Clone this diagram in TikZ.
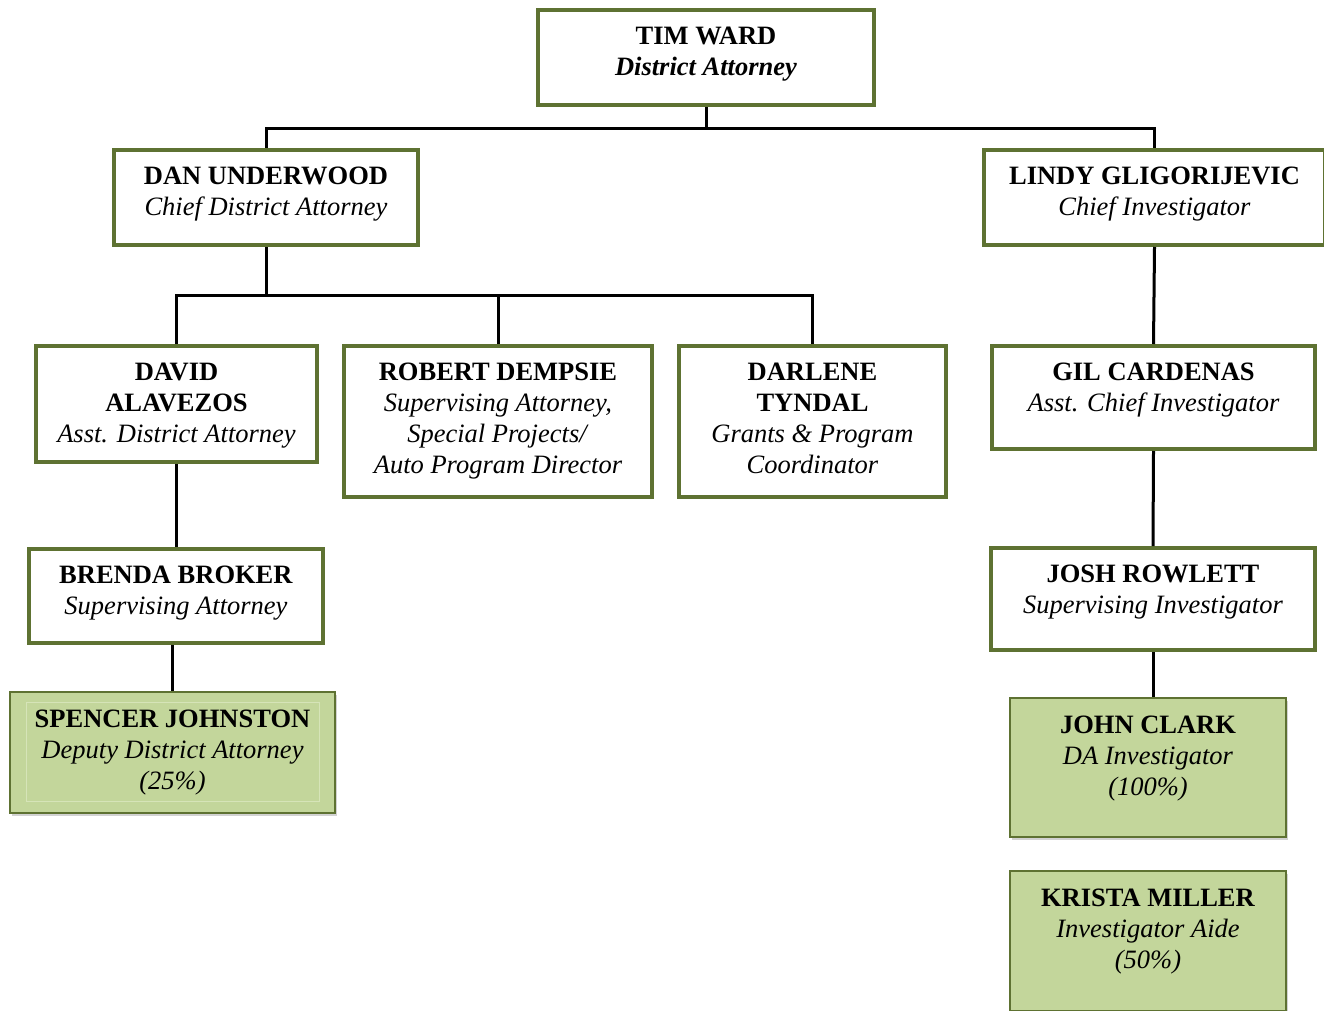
\documentclass[tikz,border=0pt]{standalone}
\usepackage{fontspec}
\setmainfont{Liberation Serif}
\usetikzlibrary{shadows,calc}
\definecolor{bordergreen}{HTML}{5E7232}
\definecolor{fillgreen}{HTML}{C3D69B}
\definecolor{innergreen}{HTML}{D6E4B8}
\begin{document}
\begin{tikzpicture}[x=1pt,y=-1pt,
  box/.style={draw=bordergreen, line width=4pt, fill=white, inner sep=0pt, anchor=north west},
  gbox/.style={draw=bordergreen, line width=2pt, fill=fillgreen, inner sep=0pt, anchor=north west,
    drop shadow={shadow xshift=2pt, shadow yshift=-3pt, fill=black!35}},
  txt/.style={anchor=north, inner sep=0pt, align=center, font=\fontsize{26.5}{31}\selectfont, yshift=-19pt},
  conn/.style={line width=3pt, black},
  innerline/.style={draw=innergreen, line width=1pt}]
\useasboundingbox (0,0) rectangle (1324,1011);

% boxes
\node[box, minimum width=336pt, minimum height=95pt] (tim) at (536,8) {};
\node[box, minimum width=304pt, minimum height=95pt] (dan) at (112,148) {};
\node[box, minimum width=341pt, minimum height=95pt] (lindy) at (982,148) {};
\node[box, minimum width=281pt, minimum height=116pt] (david) at (34,344) {};
\node[box, minimum width=308pt, minimum height=151pt] (robert) at (342,344) {};
\node[box, minimum width=267pt, minimum height=151pt] (darlene) at (677,344) {};
\node[box, minimum width=323pt, minimum height=103pt] (gil) at (990,344) {};
\node[box, minimum width=294pt, minimum height=94pt] (brenda) at (27,547) {};
\node[box, minimum width=324pt, minimum height=102pt] (josh) at (989,546) {};
\node[gbox, minimum width=325pt, minimum height=121pt] (spencer) at (9,691) {};
\node[gbox, minimum width=276pt, minimum height=139pt] (john) at (1009,697) {};
\node[gbox, minimum width=276pt, minimum height=140pt] (krista) at (1009,870) {};
\draw[innerline] ([shift={(17,11)}]spencer.north west) rectangle ([shift={(-17,-13)}]spencer.south east);

% texts
\node[txt] (timt) at (tim.north) {\textbf{TIM WARD}\\\textbf{\textit{District Attorney}}};
\node[txt] (dant) at (dan.north) {\textbf{DAN UNDERWOOD}\\\textit{Chief District Attorney}};
\node[txt] (lindyt) at (lindy.north) {\textbf{LINDY GLIGORIJEVIC}\\\textit{Chief Investigator}};
\node[txt] (davidt) at (david.north) {\textbf{DAVID}\\\textbf{ALAVEZOS}\\\textit{Asst. District Attorney}};
\node[txt] (robertt) at (robert.north) {\textbf{ROBERT DEMPSIE}\\\textit{Supervising Attorney,}\\\textit{Special Projects/}\\\textit{Auto Program Director}};
\node[txt] (darlenet) at (darlene.north) {\textbf{DARLENE}\\\textbf{TYNDAL}\\\textit{Grants \& Program}\\\textit{Coordinator}};
\node[txt] (gilt) at (gil.north) {\textbf{GIL CARDENAS}\\\textit{Asst. Chief Investigator}};
\node[txt] (brendat) at (brenda.north) {\textbf{BRENDA BROKER}\\\textit{Supervising Attorney}};
\node[txt] (josht) at (josh.north) {\textbf{JOSH ROWLETT}\\\textit{Supervising Investigator}};
\node[txt] (spencert) at (spencer.north) {\textbf{SPENCER JOHNSTON}\\\textit{Deputy District Attorney}\\\textit{(25\%)}};
\node[txt] (johnt) at (john.north) {\textbf{JOHN CLARK}\\\textit{DA Investigator}\\\textit{(100\%)}};
\node[txt] (kristat) at (krista.north) {\textbf{KRISTA MILLER}\\\textit{Investigator Aide}\\\textit{(50\%)}};

% connectors
\coordinate (bus1) at ($(tim.south)+(0,22)$);
\coordinate (bus2) at ($(dan.south)+(0,48)$);
\draw[conn] (tim.south) -- (bus1);
\draw[conn] (dan.north) |- (bus1) -| (lindy.north);
\draw[conn] (dan.south) -- (bus2);
\draw[conn] (david.north) |- (bus2) -| (darlene.north);
\draw[conn] (robert.north) -- (robert.north |- bus2);
\draw[conn] (lindy.south) -- (gil.north);
\draw[conn] (david.south) -- (david.south |- brenda.north);
\draw[conn] (spencer.north) -- (spencer.north |- brenda.south);
\draw[conn] (gil.south) -- (josh.north);
\draw[conn] (josh.south) -- (josh.south |- john.north);
\end{tikzpicture}
\end{document}
